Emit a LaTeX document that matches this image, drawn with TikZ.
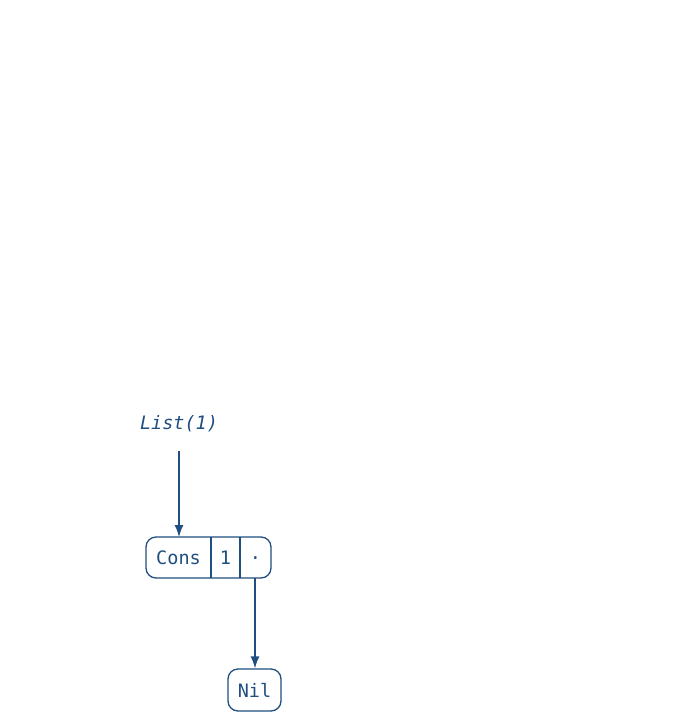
\documentclass[tikz,border=0pt]{standalone}
\usepackage{fontspec}
\setmonofont{DejaVu Sans Mono}
\usetikzlibrary{arrows.meta}
\definecolor{ink}{HTML}{1F4E80}
\begin{document}
\begin{tikzpicture}[x=1pt,y=-1pt,
  cell/.style={draw=ink,line width=1.3pt,rounded corners=10pt},
  lbl/.style={text=ink,font=\fontsize{18.5}{22}\selectfont\ttfamily,inner sep=0pt},
  conn/.style={draw=ink,line width=1.3pt,-{Latex[length=12pt,width=9pt]}}]
\useasboundingbox (0,0) rectangle (675,722);
% Cons cell
\draw[cell] (146,537) rectangle (271,578);
\draw[draw=ink,line width=1.3pt] (211,537) -- (211,578) (240,537) -- (240,578);
\node[lbl] (cons) at (178.5,557.5) {Cons};
\node[lbl] (one) at (225.5,557.5) {1};
\node[lbl] (dot) at (255.5,561) {·};
\coordinate (consTop) at (179,537);
\coordinate (consPtr) at (255,578);
% Nil
\node[cell,minimum width=53pt,minimum height=42pt,inner sep=0pt,lbl] (nil) at (254.5,690) {Nil};
% label
\node[lbl,font=\fontsize{18.5}{22}\selectfont\ttfamily\itshape] (list) at (179,424) {List(1)};
\coordinate (listBot) at (179,451);
\draw[conn] (listBot) -- (consTop);
\draw[conn] (consPtr) -- (nil.north -| consPtr);
\end{tikzpicture}
\end{document}
